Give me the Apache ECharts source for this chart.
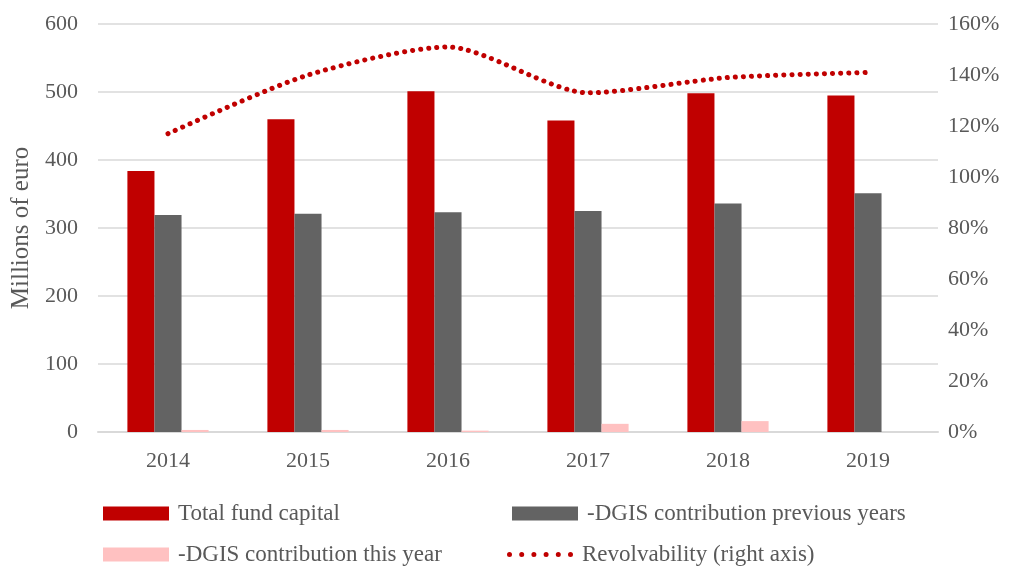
<!DOCTYPE html>
<html>
<head>
<meta charset="utf-8">
<script src="https://cdn.jsdelivr.net/npm/echarts@6/dist/echarts.min.js"></script>
<style>
html,body{margin:0;padding:0;background:#fff;}
#chart{width:1017px;height:568px;}
</style>
</head>
<body>
<div id="chart"></div>
<script>
var years = ['2014', '2015', '2016', '2017', '2018', '2019'];
var totalCapital = [384, 460, 501, 458, 498, 495];
var dgisPrevious = [319, 321, 323, 325, 336, 351];
var dgisThisYear = [3, 3, 2, 12, 16, 0];
var revolvability = [117, 140, 151, 133, 139, 141];

var font = 'Liberation Serif';
var txt = '#595959';

// six dots for the line legend
var dotsIcon = 'path://M0,2.5a2.5,2.5 0 1,0 5,0a2.5,2.5 0 1,0 -5,0' +
    'M12.2,2.5a2.5,2.5 0 1,0 5,0a2.5,2.5 0 1,0 -5,0' +
    'M24.4,2.5a2.5,2.5 0 1,0 5,0a2.5,2.5 0 1,0 -5,0' +
    'M36.6,2.5a2.5,2.5 0 1,0 5,0a2.5,2.5 0 1,0 -5,0' +
    'M48.8,2.5a2.5,2.5 0 1,0 5,0a2.5,2.5 0 1,0 -5,0' +
    'M61,2.5a2.5,2.5 0 1,0 5,0a2.5,2.5 0 1,0 -5,0';

var myChart = echarts.init(document.getElementById('chart'));

function legendAt(name, left, top, icon, h) {
    return {
        data: [{name: name, icon: icon}],
        left: left,
        top: top,
        itemWidth: 66,
        itemHeight: h,
        textStyle: {fontFamily: font, fontSize: 23, color: txt, padding: [0, 0, 0, 4]}
    };
}

var option = {
    animation: false,
    backgroundColor: '#fff',
    textStyle: {fontFamily: font},
    grid: {left: 98, right: 79, top: 24, bottom: 136, outerBoundsMode: 'none', containLabel: false},
    legend: [
        legendAt('Total fund capital', 98, 497, 'rect', 14),
        legendAt('-DGIS contribution previous years', 507, 497, 'rect', 14),
        legendAt('-DGIS contribution this year', 98, 538, 'rect', 14),
        legendAt('Revolvability (right axis)', 502, 538, dotsIcon, 5)
    ],
    xAxis: {
        type: 'category',
        data: years,
        axisTick: {show: false},
        axisLine: {lineStyle: {color: '#d9d9d9', width: 2}},
        axisLabel: {fontFamily: font, fontSize: 22, color: txt, margin: 18}
    },
    yAxis: [
        {
            type: 'value',
            min: 0, max: 600, interval: 100,
            name: 'Millions of euro',
            nameLocation: 'middle',
            nameGap: 63,
            nameTextStyle: {fontFamily: font, fontSize: 25, color: txt},
            axisLine: {show: false},
            axisTick: {show: false},
            axisLabel: {fontFamily: font, fontSize: 22, color: txt, margin: 20},
            splitLine: {lineStyle: {color: '#d9d9d9', width: 1.5}}
        },
        {
            type: 'value',
            min: 0, max: 160, interval: 20,
            axisLine: {show: false},
            axisTick: {show: false},
            splitLine: {show: false},
            axisLabel: {fontFamily: font, fontSize: 22, color: txt, margin: 10, formatter: '{value}%'}
        }
    ],
    series: [
        {
            name: 'Total fund capital',
            type: 'bar',
            data: totalCapital,
            barGap: '0%',
            barCategoryGap: '42%',
            itemStyle: {color: '#c00000'}
        },
        {
            name: '-DGIS contribution previous years',
            type: 'bar',
            data: dgisPrevious,
            itemStyle: {color: '#636363'}
        },
        {
            name: '-DGIS contribution this year',
            type: 'bar',
            data: dgisThisYear,
            itemStyle: {color: '#ffc1c1'}
        },
        {
            name: 'Revolvability (right axis)',
            type: 'line',
            yAxisIndex: 1,
            data: revolvability,
            smooth: 0.25,
            symbol: 'none',
            itemStyle: {color: '#c00000'},
            lineStyle: {color: '#c00000', width: 5, type: [0.1, 8], cap: 'round'}
        }
    ]
};
myChart.setOption(option);
</script>
</body>
</html>
